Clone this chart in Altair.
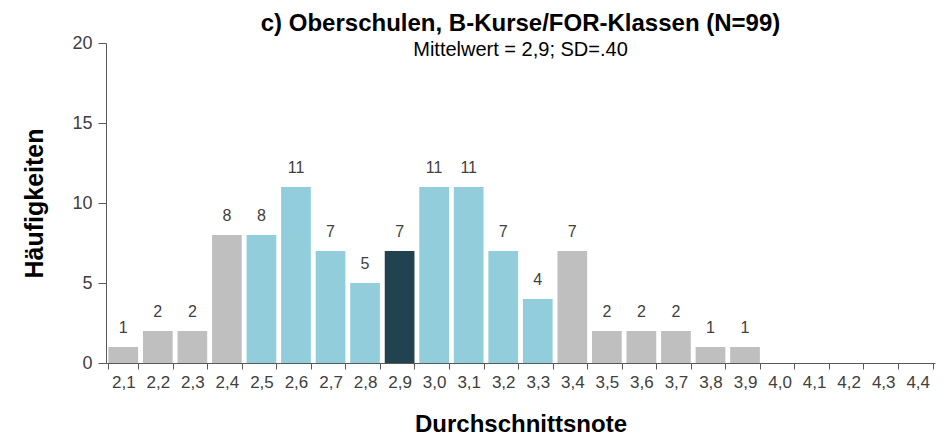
import altair as alt
import pandas as pd

categories = ["2,1", "2,2", "2,3", "2,4", "2,5", "2,6", "2,7", "2,8", "2,9", "3,0", "3,1", "3,2",
              "3,3", "3,4", "3,5", "3,6", "3,7", "3,8", "3,9", "4,0", "4,1", "4,2", "4,3", "4,4"]
counts = [1, 2, 2, 8, 8, 11, 7, 5, 7, 11, 11, 7, 4, 7, 2, 2, 2, 1, 1, 0, 0, 0, 0, 0]
groups = ["aus", "aus", "aus", "aus", "mitte", "mitte", "mitte", "mitte", "mittelwert",
          "mitte", "mitte", "mitte", "mitte", "aus", "aus", "aus", "aus", "aus", "aus",
          "aus", "aus", "aus", "aus", "aus"]

df = pd.DataFrame({"note": categories, "n": counts, "gruppe": groups})
df["label"] = df["n"].apply(lambda v: str(v) if v > 0 else "")

FONT = "Liberation Sans"

x = alt.X("note:N", sort=categories,
          scale=alt.Scale(paddingInner=0.14, paddingOuter=0.07),
          axis=alt.Axis(title="Durchschnittsnote", labelAngle=0, tickBand="extent",
                        labelFontSize=17, labelColor="#404040", labelPadding=5,
                        tickSize=6, tickColor="#595959", domainColor="#595959",
                        titleFontSize=24, titleFontWeight="bold", titleColor="#000000",
                        titlePadding=22, labelFont=FONT, titleFont=FONT))
y = alt.Y("n:Q", scale=alt.Scale(domain=[0, 20]),
          axis=alt.Axis(title="Häufigkeiten", values=[0, 5, 10, 15, 20], grid=False,
                        labelFontSize=18, labelColor="#404040", labelPadding=6,
                        tickSize=8, tickColor="#595959", domainColor="#595959",
                        titleFontSize=25, titleFontWeight="bold", titleColor="#000000",
                        titlePadding=24, labelFont=FONT, titleFont=FONT))

color = alt.Color("gruppe:N", legend=None,
                  scale=alt.Scale(domain=["aus", "mitte", "mittelwert"],
                                  range=["#BFBFBF", "#92CDDC", "#21424F"]))

bars = alt.Chart(df).mark_bar().encode(x=x, y=y, color=color)
labels = alt.Chart(df).mark_text(baseline="bottom", dy=-11, fontSize=16,
                                 color="#404040", font=FONT).encode(
    x=alt.X("note:N", sort=categories), y="n:Q", text="label:N")

chart = alt.layer(bars, labels).properties(
    width=829, height=320,
    autosize=alt.AutoSizeParams(type="none"),
    padding={"left": 98, "top": 35, "right": 5, "bottom": 72},
    title=alt.TitleParams(
        text="c) Oberschulen, B-Kurse/FOR-Klassen (N=99)",
        subtitle="Mittelwert = 2,9; SD=.40",
        anchor="middle", font=FONT, fontSize=24, fontWeight="bold", color="#000000",
        subtitleFont=FONT, subtitleFontSize=20, subtitleColor="#000000",
        subtitlePadding=4, offset=-26),
).configure_view(stroke=None)

chart.save("out.html", embed_options={"renderer": "svg", "actions": False})
